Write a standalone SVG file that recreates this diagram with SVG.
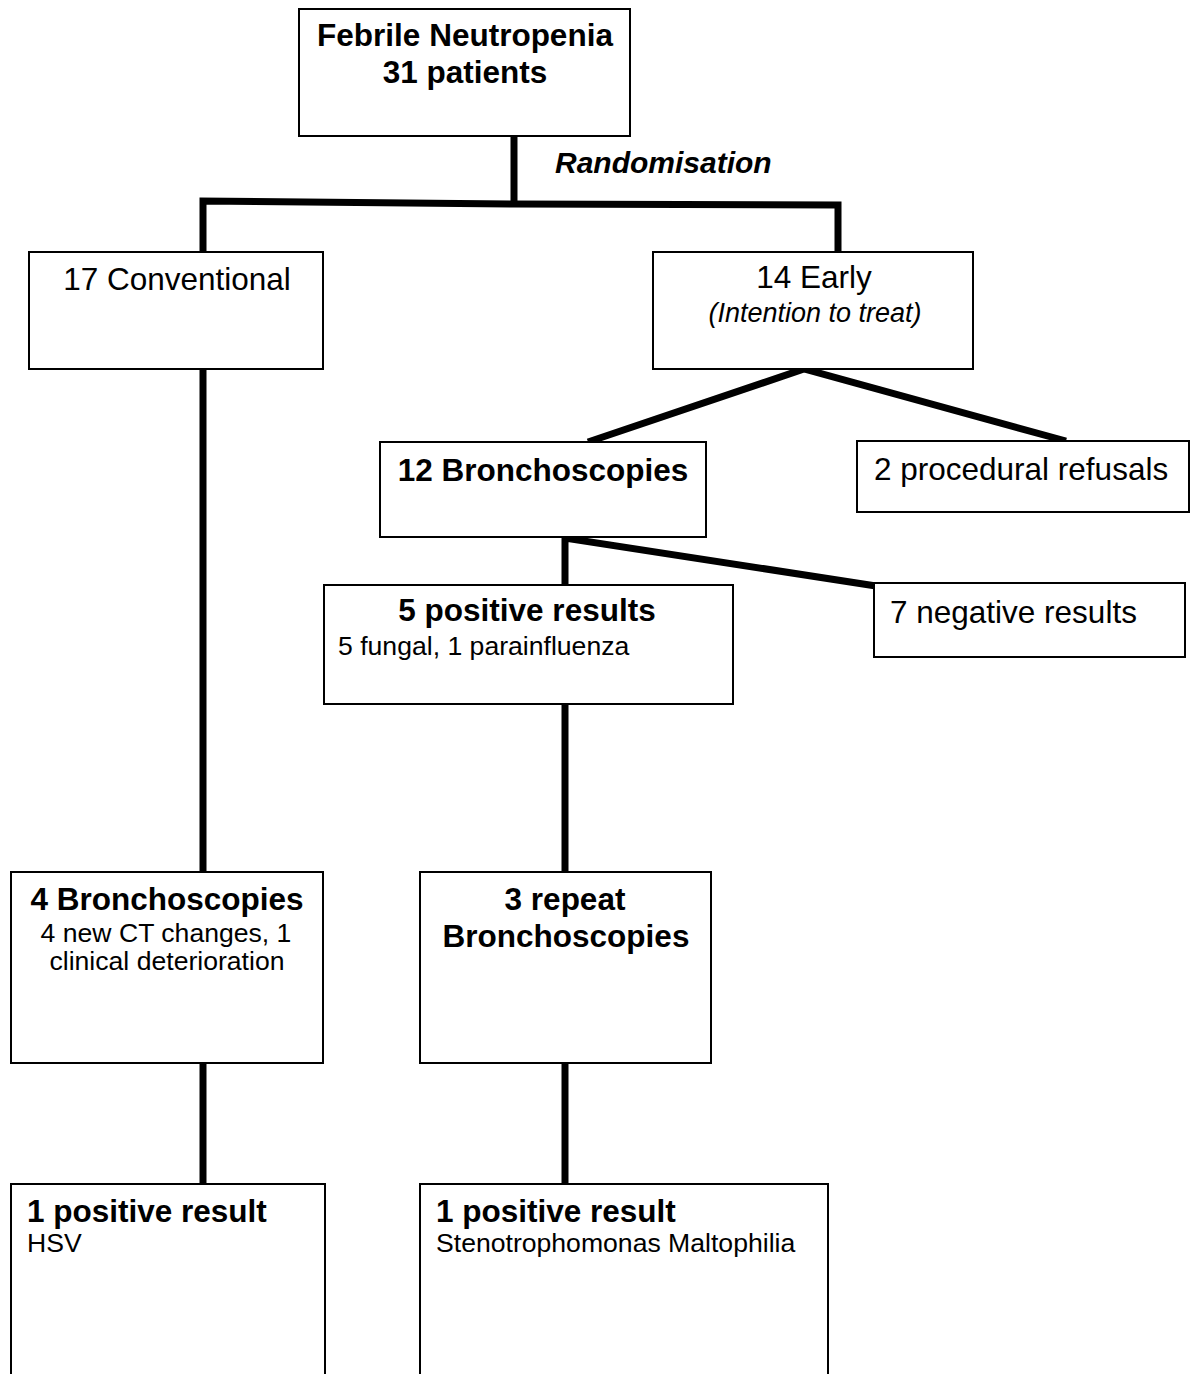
<svg xmlns="http://www.w3.org/2000/svg" width="1194" height="1374" viewBox="0 0 1194 1374">
<style>
.box{fill:#fff;stroke:#000;stroke-width:2}
.con{fill:none;stroke:#000;stroke-width:7;stroke-linecap:butt;stroke-linejoin:miter}
text{font-family:"Liberation Sans",Arial,sans-serif;fill:#000}
.big{font-size:31.5px}
.b{font-weight:bold}
.sm{font-size:26.6px}
.it{font-style:italic}
.mid{text-anchor:middle}
</style>
<rect width="1194" height="1374" fill="#fff"/>
<g id="connectors">
<polyline class="con" points="514,136 514,204"/>
<polyline class="con" points="203,253 203,201 514,204 838,205 838,253"/>
<line class="con" x1="203" y1="369" x2="203" y2="873"/>
<polyline class="con" points="588,442 804,369 1066,441"/>
<polyline class="con" points="565,585 565,538 876,586"/>
<line class="con" x1="565" y1="704" x2="565" y2="873"/>
<line class="con" x1="203" y1="1063" x2="203" y2="1184"/>
<line class="con" x1="565" y1="1063" x2="565" y2="1184"/>
</g>
<g id="n-febrile">
<rect class="box" x="299" y="9" width="331" height="127"/>
<text class="big b mid" x="465" y="46">Febrile Neutropenia</text>
<text class="big b mid" x="465" y="83">31 patients</text>
</g>
<g id="l-random">
<text class="b it" x="555" y="173" style="font-size:30px">Randomisation</text>
</g>
<g id="n-conventional">
<rect class="box" x="29" y="252" width="294" height="117"/>
<text class="big mid" x="177" y="290">17 Conventional</text>
</g>
<g id="n-early">
<rect class="box" x="653" y="252" width="320" height="117"/>
<text class="big mid" x="814" y="288">14 Early</text>
<text class="it mid" x="815" y="322" style="font-size:27px">(Intention to treat)</text>
</g>
<g id="n-bronch12">
<rect class="box" x="380" y="442" width="326" height="95"/>
<text class="big b mid" x="543" y="481">12 Bronchoscopies</text>
</g>
<g id="n-refusals">
<rect class="box" x="857" y="441" width="332" height="71"/>
<text class="big" x="874" y="480">2 procedural refusals</text>
</g>
<g id="n-positive5">
<rect class="box" x="324" y="585" width="409" height="119"/>
<text class="big b mid" x="527" y="621">5 positive results</text>
<text class="sm" x="338" y="655">5 fungal, 1 parainfluenza</text>
</g>
<g id="n-negative7">
<rect class="box" x="874" y="583" width="311" height="74"/>
<text class="big" x="890" y="623">7 negative results</text>
</g>
<g id="n-bronch4">
<rect class="box" x="11" y="872" width="312" height="191"/>
<text class="big b mid" x="167" y="910">4 Bronchoscopies</text>
<text class="sm mid" x="166" y="942">4 new CT changes, 1</text>
<text class="sm mid" x="167" y="970">clinical deterioration</text>
</g>
<g id="n-repeat3">
<rect class="box" x="420" y="872" width="291" height="191"/>
<text class="big b mid" x="565" y="910">3 repeat</text>
<text class="big b mid" x="566" y="947">Bronchoscopies</text>
</g>
<g id="n-hsv">
<path class="box" d="M11,1380 V1184 H325 V1380"/>
<text class="big b" x="27" y="1222">1 positive result</text>
<text class="sm" x="27" y="1252">HSV</text>
</g>
<g id="n-steno">
<path class="box" d="M420,1380 V1184 H828 V1380"/>
<text class="big b" x="436" y="1222">1 positive result</text>
<text class="sm" x="436" y="1252">Stenotrophomonas Maltophilia</text>
</g>
</svg>
